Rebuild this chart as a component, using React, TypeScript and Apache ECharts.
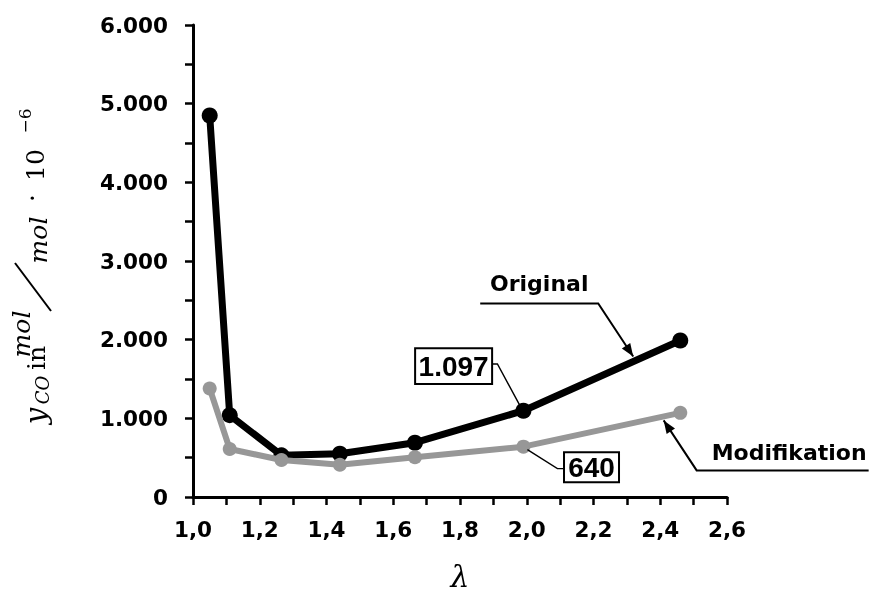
import React, { useEffect, useRef } from "react";
import * as echarts from "echarts";

const lambdaValues = [1.05, 1.11, 1.265, 1.44, 1.665, 1.99, 2.46];
const originalValues = [4850, 1040, 530, 550, 690, 1097, 1990];
const modifikationValues = [1380, 610, 470, 410, 505, 640, 1070];
const seriesNames = ["Original", "Modifikation"];
const boxLabels = ["1.097", "640"];

const BOLD = "DejaVu Sans";
const SERIF = "DejaVu Serif";
const GRAY = "#979797";

function fmtY(v: number) {
  if (v % 1000 !== 0) return "";
  return v === 0 ? "0" : v / 1000 + ".000";
}
function fmtX(v: number) {
  const k = Math.round(v * 10);
  return k % 2 === 0 ? (k / 10).toFixed(1).replace(".", ",") : "";
}

function arrowHead(tip: number[], from: number[], len = 13, half = 5) {
  const dx = tip[0] - from[0];
  const dy = tip[1] - from[1];
  const l = Math.hypot(dx, dy);
  const ux = dx / l, uy = dy / l;
  const nx = -uy, ny = ux;
  const bx = tip[0] - ux * len, by = tip[1] - uy * len;
  return {
    type: "polygon",
    shape: { points: [tip, [bx + nx * half, by + ny * half], [bx - nx * half, by - ny * half]] },
    style: { fill: "#000" },
    z: 100,
  };
}

export default function App() {
  const ref = useRef<HTMLDivElement>(null);
  useEffect(() => {
    if (!ref.current) return;
    const chart = echarts.init(ref.current, null, { renderer: "svg" });
    const axisCommon = {
      axisLine: { show: true, lineStyle: { color: "#000", width: 3 } },
      axisTick: { show: true, length: 8, lineStyle: { color: "#000", width: 2.5 } },
      splitLine: { show: false },
      axisLabel: { color: "#000", fontFamily: BOLD, fontWeight: "bold", fontSize: 21.5 },
    };
    chart.setOption({
      animation: false,
      grid: { left: 193, right: 143, top: 25, bottom: 101, containLabel: false },
      xAxis: {
        type: "value",
        min: 1.0,
        max: 2.6,
        interval: 0.1,
        ...axisCommon,
        axisLabel: { ...axisCommon.axisLabel, margin: 21, formatter: fmtX },
        name: "λ",
        nameLocation: "middle",
        nameGap: 64,
        nameTextStyle: { fontFamily: SERIF, fontStyle: "italic", fontSize: 30, color: "#000" },
      },
      yAxis: {
        type: "value",
        min: 0,
        max: 6000,
        interval: 500,
        ...axisCommon,
        axisLabel: { ...axisCommon.axisLabel, margin: 25, formatter: fmtY },
      },
      series: [
        {
          name: seriesNames[0],
          type: "line",
          data: lambdaValues.map((x, i) => [x, originalValues[i]]),
          symbol: "circle",
          symbolSize: 16,
          lineStyle: { color: "#000", width: 7 },
          itemStyle: { color: "#000" },
          z: 2,
        },
        {
          name: seriesNames[1],
          type: "line",
          data: lambdaValues.map((x, i) => [x, modifikationValues[i]]),
          symbol: "circle",
          symbolSize: 14,
          lineStyle: { color: GRAY, width: 6 },
          itemStyle: { color: GRAY },
          z: 3,
        },
      ],
    });

    const p = (x: number, y: number) => chart.convertToPixel({ gridIndex: 0 }, [x, y]) as number[];
    const lerp = (a: number[], b: number[], t: number) => [a[0] + (b[0] - a[0]) * t, a[1] + (b[1] - a[1]) * t];

    const b6 = p(lambdaValues[5], originalValues[5]);
    const b7 = p(lambdaValues[6], originalValues[6]);
    const g6 = p(lambdaValues[5], modifikationValues[5]);
    const g7 = p(lambdaValues[6], modifikationValues[6]);

    const oTipBase = lerp(b6, b7, 0.7);
    const oTip = [oTipBase[0], oTipBase[1] - 5];
    const oElbow = [oTip[0] - 35, oTip[1] - 53];
    const oEnd = [oTip[0] - 153, oTip[1] - 53];
    const mTipBase = lerp(g6, g7, 0.894);
    const mTip = [mTipBase[0], mTipBase[1] + 4];
    const mElbow = [mTip[0] + 33, mTip[1] + 50];
    const mEnd = [mTip[0] + 205, mTip[1] + 50];

    const lineStyle = { stroke: "#000", lineWidth: 2, fill: null };
    const thin = { stroke: "#000", lineWidth: 1.4, fill: null };

    const rot = (text: string, x: number, y: number, size: number, italic: boolean) => ({
      type: "text",
      x,
      y,
      rotation: Math.PI / 2,
      style: {
        text,
        fill: "#000",
        font: `${italic ? "italic " : ""}${size}px "${SERIF}"`,
        align: "center",
        verticalAlign: "middle",
      },
    });

    chart.setOption({
      graphic: [
        { type: "polyline", shape: { points: [oEnd, oElbow, oTip] }, style: lineStyle, z: 100 },
        arrowHead(oTip, oElbow),
        {
          type: "text",
          x: oTip[0] - 94,
          y: oTip[1] - 73,
          style: { text: seriesNames[0], fill: "#000", font: `bold 22px "${BOLD}"`, align: "center", verticalAlign: "middle" },
          z: 100,
        },
        { type: "polyline", shape: { points: [mEnd, mElbow, mTip] }, style: lineStyle, z: 100 },
        arrowHead(mTip, mElbow),
        {
          type: "text",
          x: mTip[0] + 48,
          y: mTip[1] + 32,
          style: { text: seriesNames[1], fill: "#000", font: `bold 22px "${BOLD}"`, align: "left", verticalAlign: "middle" },
          z: 100,
        },
        {
          type: "polyline",
          shape: { points: [[b6[0] - 4, b6[1] - 6], [b6[0] - 26, b6[1] - 46.7], [b6[0] - 31.3, b6[1] - 46.7]] },
          style: thin,
          z: 100,
        },
        {
          type: "rect",
          shape: { x: b6[0] - 108.3, y: b6[1] - 62.4, width: 77, height: 35.7 },
          style: { fill: "#fff", stroke: "#000", lineWidth: 2 },
          z: 100,
        },
        {
          type: "text",
          x: b6[0] - 69.8,
          y: b6[1] - 44.2,
          style: { text: boxLabels[0], fill: "#000", font: `bold 28px "Liberation Sans"`, align: "center", verticalAlign: "middle" },
          z: 101,
        },
        {
          type: "polyline",
          shape: { points: [[g6[0] + 4, g6[1] + 3], [g6[0] + 34, g6[1] + 22], [g6[0] + 40.6, g6[1] + 22]] },
          style: thin,
          z: 100,
        },
        {
          type: "rect",
          shape: { x: g6[0] + 40.6, y: g6[1] + 5.7, width: 55, height: 30 },
          style: { fill: "#fff", stroke: "#000", lineWidth: 2 },
          z: 100,
        },
        {
          type: "text",
          x: g6[0] + 68.1,
          y: g6[1] + 21.2,
          style: { text: boxLabels[1], fill: "#000", font: `bold 28px "Liberation Sans"`, align: "center", verticalAlign: "middle" },
          z: 101,
        },
        rot("y", 36, 416, 29, true),
        rot("CO", 42, 390, 18, true),
        rot("in", 36, 358, 25, false),
        rot("mol", 21, 334, 25, true),
        { type: "line", shape: { x1: 51, y1: 311, x2: 15, y2: 263 }, style: { stroke: "#000", lineWidth: 2 } },
        rot("mol", 38, 240, 25, true),
        rot("·", 32, 198, 26, false),
        rot("10", 35, 165, 25, false),
        rot("−6", 25, 121, 17, false),
      ],
    });

    return () => chart.dispose();
  }, []);
  return <div ref={ref} style={{ position: "fixed", left: 0, top: 0, width: 870, height: 598 }} />;
}
